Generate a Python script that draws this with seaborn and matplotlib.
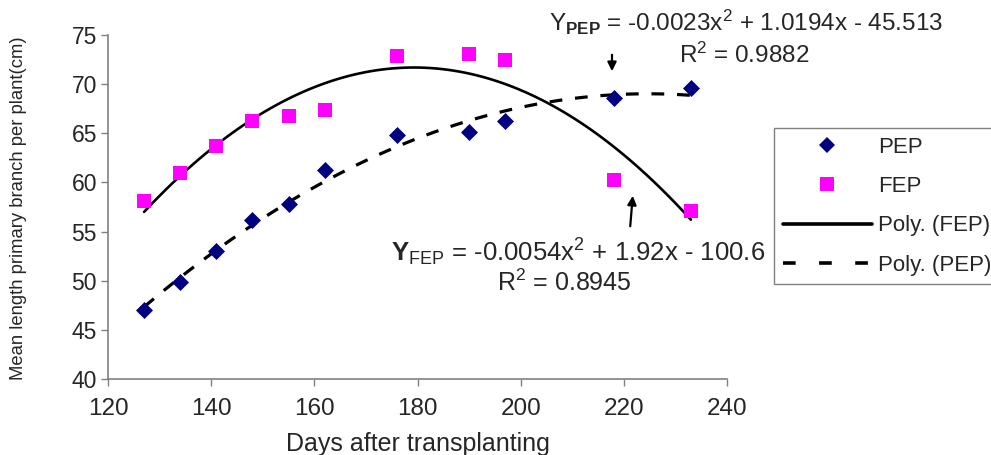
import matplotlib
matplotlib.use("Agg")
import matplotlib.pyplot as plt
import seaborn as sns
from matplotlib.lines import Line2D

# ---- data ----
days = [127, 134, 141, 148, 155, 162, 176, 190, 197, 218, 233]
pep = [47.0, 49.9, 53.0, 56.2, 57.8, 61.3, 64.8, 65.1, 66.2, 68.6, 69.6]
fep = [58.1, 61.0, 63.7, 66.3, 66.8, 67.4, 72.9, 73.1, 72.5, 60.2, 57.1]
x_ticks = [120, 140, 160, 180, 200, 220, 240]
y_ticks = [40, 45, 50, 55, 60, 65, 70, 75]
series_labels = ["PEP", "FEP", "Poly. (FEP)", "Poly. (PEP)"]
eq_pep = r"Y$_{\mathbf{PEP}}$ = -0.0023x$^{2}$ + 1.0194x - 45.513"
r2_pep = r"R$^{2}$ = 0.9882"
eq_fep = r"$\mathbf{Y}_{\mathrm{FEP}}$ = -0.0054x$^{2}$ + 1.92x - 100.6"
r2_fep = r"R$^{2}$ = 0.8945"

sns.set_style("ticks")
plt.rcParams["font.family"] = ["Liberation Sans", "DejaVu Sans"]
plt.rcParams["mathtext.fontset"] = "custom"
plt.rcParams["mathtext.rm"] = "Liberation Sans"
plt.rcParams["mathtext.it"] = "Liberation Sans"
plt.rcParams["mathtext.bf"] = "Liberation Sans:bold"

W, H = 991, 455
fig = plt.figure(figsize=(W / 100, H / 100), dpi=100)
ax = fig.add_axes([108 / W, 1 - 379 / H, (727 - 108) / W, (379 - 35) / H])

navy = "#000080"
magenta = "#FF00FF"

sns.regplot(x=days, y=fep, order=2, ci=None, scatter=False, truncate=True, ax=ax,
            line_kws=dict(color="black", lw=1.9, zorder=2))
sns.regplot(x=days, y=pep, order=2, ci=None, scatter=False, truncate=True, ax=ax,
            line_kws=dict(color="black", lw=2.3, linestyle=(0, (4, 4)), zorder=2))
sns.scatterplot(x=days, y=pep, marker="D", color=navy, s=75, linewidth=0, ax=ax, zorder=3)
sns.scatterplot(x=days, y=fep, marker="s", color=magenta, s=95, linewidth=0, ax=ax, zorder=3)

ax.set_xlim(120, 240)
ax.set_ylim(40, 75)
ax.set_xticks(x_ticks)
ax.set_yticks(y_ticks)
ax.tick_params(axis="x", labelsize=17.5, length=5, width=1, color="#808080", pad=9)
ax.tick_params(axis="y", labelsize=16.5, length=5, width=1, color="#808080", pad=3)
sns.despine(ax=ax)
for s in ("left", "bottom"):
    ax.spines[s].set_color("#808080")
    ax.spines[s].set_linewidth(1.2)
ax.set_xlabel("Days after transplanting", fontsize=18, labelpad=8)
ax.set_ylabel("Mean length primary branch per plant(cm)", fontsize=13.3)
ax.yaxis.set_label_coords(-0.145, 0.496)
ax.yaxis.label.set_verticalalignment("center")

# equations and arrows
fig.text(746 / W, 1 - 22 / H, eq_pep, fontsize=17.5, ha="center", va="center")
fig.text(744 / W, 1 - 55 / H, r2_pep, fontsize=17.5, ha="center", va="center")
fig.text(578 / W, 1 - 252 / H, eq_fep, fontsize=18.5, ha="center", va="center")
fig.text(564 / W, 1 - 283 / H, r2_fep, fontsize=18, ha="center", va="center")
ax.annotate("", xy=(612, H - 74), xytext=(612, H - 52), xycoords="figure pixels",
            textcoords="figure pixels",
            arrowprops=dict(arrowstyle="-|>", color="black", lw=1.6, mutation_scale=13))
ax.annotate("", xy=(633, H - 193), xytext=(630, H - 229), xycoords="figure pixels",
            textcoords="figure pixels",
            arrowprops=dict(arrowstyle="-|>", color="black", lw=1.6, mutation_scale=13))

# legend (its frame runs past the right edge as in the reference)
handles = [
    Line2D([], [], marker="D", color=navy, linestyle="none", markersize=8.5, markeredgewidth=0),
    Line2D([], [], marker="s", color=magenta, linestyle="none", markersize=9.5, markeredgewidth=0),
    Line2D([], [], color="black", lw=2.6),
    Line2D([], [], color="black", lw=2.6, linestyle=(0, (3.5, 6.5))),
]
leg = fig.legend(handles, series_labels, loc="upper left",
                 bbox_to_anchor=(774 / W, 1 - 128 / H), bbox_transform=fig.transFigure,
                 fontsize=16, frameon=True, fancybox=False, borderaxespad=0,
                 handlelength=4.0, handletextpad=0.3, labelspacing=0.82,
                 borderpad=0.4)
leg.get_frame().set_edgecolor("#606060")
leg.get_frame().set_linewidth(1.0)

fig.savefig("out.png", dpi=100)
